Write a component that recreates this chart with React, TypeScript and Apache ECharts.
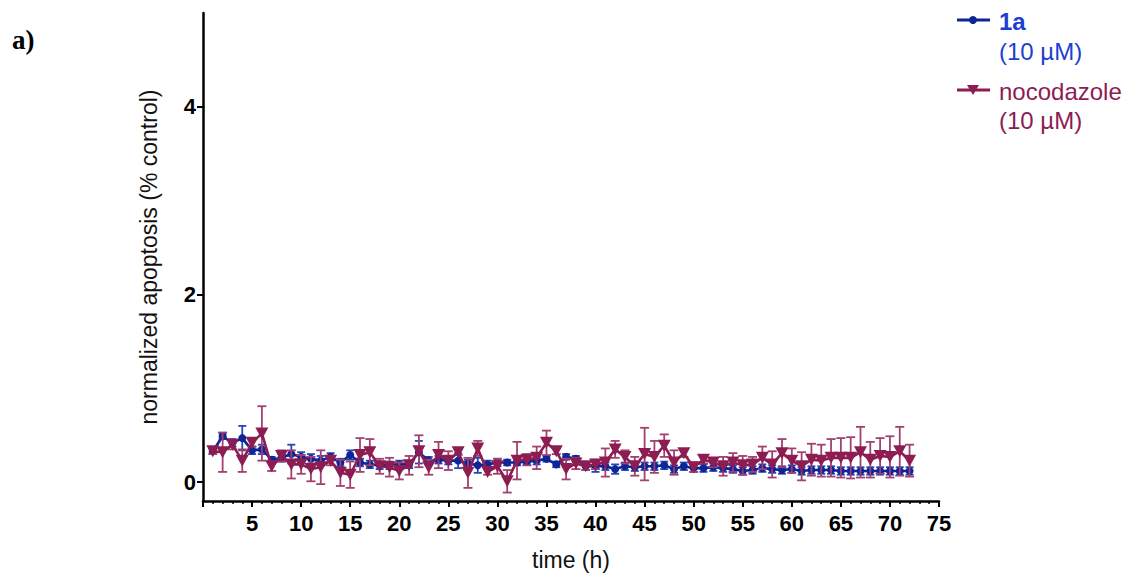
import React, { useEffect, useRef } from "react";
import * as echarts from "echarts";

const hours = [
  1, 2, 3, 4, 5, 6, 7, 8, 9, 10, 11, 12, 13, 14, 15, 16, 17, 18, 19, 20, 21, 22, 23, 24,
  25, 26, 27, 28, 29, 30, 31, 32, 33, 34, 35, 36, 37, 38, 39, 40, 41, 42, 43, 44, 45, 46, 47, 48,
  49, 50, 51, 52, 53, 54, 55, 56, 57, 58, 59, 60, 61, 62, 63, 64, 65, 66, 67, 68, 69, 70, 71, 72,
];

const cmpd1aMean = [
  0.33, 0.49, 0.42, 0.47, 0.34, 0.35, 0.24, 0.26, 0.3, 0.27, 0.25, 0.23, 0.27, 0.21, 0.29, 0.21, 0.19, 0.18, 0.18, 0.19, 0.19, 0.32, 0.23, 0.24,
  0.23, 0.23, 0.2, 0.18, 0.19, 0.21, 0.21, 0.21, 0.22, 0.23, 0.25, 0.19, 0.27, 0.25, 0.17, 0.17, 0.17, 0.14, 0.17, 0.16, 0.17, 0.17, 0.18, 0.14,
  0.17, 0.15, 0.15, 0.16, 0.15, 0.14, 0.12, 0.13, 0.15, 0.14, 0.13, 0.14, 0.12, 0.13, 0.13, 0.13, 0.12, 0.12, 0.12, 0.12, 0.12, 0.12, 0.12, 0.12,
];
const cmpd1aErr = [
  0.02, 0.03, 0.04, 0.13, 0.04, 0.05, 0.03, 0.04, 0.1, 0.05, 0.05, 0.05, 0.04, 0.04, 0.05, 0.04, 0.04, 0.04, 0.04, 0.04, 0.04, 0.12, 0.04, 0.04,
  0.04, 0.08, 0.04, 0.08, 0.04, 0.04, 0.03, 0.03, 0.03, 0.04, 0.03, 0.03, 0.03, 0.03, 0.04, 0.06, 0.04, 0.05, 0.04, 0.04, 0.04, 0.04, 0.04, 0.04,
  0.04, 0.04, 0.04, 0.04, 0.04, 0.04, 0.04, 0.04, 0.04, 0.04, 0.04, 0.04, 0.04, 0.04, 0.04, 0.04, 0.04, 0.04, 0.04, 0.04, 0.04, 0.04, 0.04, 0.04,
];

const nocoMean = [
  0.33, 0.32, 0.4, 0.23, 0.42, 0.52, 0.17, 0.28, 0.19, 0.19, 0.14, 0.16, 0.23, 0.1, 0.08, 0.29, 0.32, 0.17, 0.16, 0.12, 0.18, 0.33, 0.16, 0.29,
  0.23, 0.32, 0.1, 0.36, 0.11, 0.17, 0.01, 0.23, 0.24, 0.26, 0.42, 0.33, 0.14, 0.2, 0.17, 0.19, 0.21, 0.35, 0.27, 0.17, 0.3, 0.27, 0.39, 0.21,
  0.31, 0.16, 0.24, 0.21, 0.17, 0.21, 0.18, 0.19, 0.26, 0.19, 0.31, 0.23, 0.17, 0.24, 0.23, 0.26, 0.26, 0.26, 0.32, 0.24, 0.28, 0.27, 0.33, 0.23,
];
const nocoErr = [
  0.03, 0.21, 0.05, 0.12, 0.04, 0.29, 0.05, 0.06, 0.15, 0.1, 0.13, 0.18, 0.05, 0.14, 0.14, 0.18, 0.14, 0.08, 0.1, 0.09, 0.1, 0.17, 0.08, 0.14,
  0.1, 0.03, 0.16, 0.08, 0.03, 0.08, 0.12, 0.2, 0.06, 0.12, 0.13, 0.03, 0.11, 0.06, 0.04, 0.05, 0.15, 0.09, 0.07, 0.1, 0.28, 0.17, 0.12, 0.13,
  0.04, 0.05, 0.04, 0.05, 0.1, 0.1, 0.1, 0.08, 0.12, 0.14, 0.15, 0.13, 0.15, 0.17, 0.17, 0.2, 0.21, 0.22, 0.27, 0.19, 0.19, 0.22, 0.26, 0.17,
];

const yTicks = [0, 2, 4];

const BLUE = "#0d2597";
const BLUE_ERR = "#2747b8";
const BLUE_TEXT = "#1c3fd2";
const MAROON = "#8c1c52";
const MAROON_ERR = "#a2406f";

function errorSeries(name: string, mean: number[], err: number[], color: string, cap: number, z: number) {
  return {
    type: "custom",
    name,
    z,
    silent: true,
    data: hours.map((h, i) => [h, mean[i] - err[i], mean[i] + err[i]]),
    renderItem: (params: any, api: any) => {
      const x = api.value(0);
      const lo = api.coord([x, api.value(1)]);
      const hi = api.coord([x, api.value(2)]);
      const style = { stroke: color, lineWidth: 1.8, fill: "none" };
      return {
        type: "group",
        children: [
          { type: "line", shape: { x1: lo[0], y1: lo[1], x2: hi[0], y2: hi[1] }, style },
          { type: "line", shape: { x1: lo[0] - cap, y1: lo[1], x2: lo[0] + cap, y2: lo[1] }, style },
          { type: "line", shape: { x1: hi[0] - cap, y1: hi[1], x2: hi[0] + cap, y2: hi[1] }, style },
        ],
      };
    },
  };
}

export default function App() {
  const ref = useRef<HTMLDivElement>(null);
  useEffect(() => {
    document.body.style.margin = "0";
    const chart = echarts.init(ref.current!, null, { renderer: "svg" });
    const axisFont = { fontFamily: "'Liberation Sans', Arial, sans-serif" };
    const legendFont = "24px 'Liberation Sans', Arial, sans-serif";
    chart.setOption({
      animation: false,
      backgroundColor: "#ffffff",
      grid: { left: 203, right: 189, top: 13, bottom: 76, containLabel: false },
      xAxis: {
        type: "value",
        min: 0,
        max: 75,
        interval: 5,
        name: "time (h)",
        nameLocation: "middle",
        nameGap: 47,
        nameTextStyle: { ...axisFont, fontSize: 23, color: "#111" },
        axisLine: { onZero: false, lineStyle: { color: "#000", width: 2.5 } },
        axisTick: { show: true, length: 6, lineStyle: { color: "#000", width: 2 } },
        minorTick: { show: true, splitNumber: 5, length: 3, lineStyle: { color: "#000", width: 1.5 } },
        axisLabel: {
          ...axisFont,
          fontSize: 22,
          fontWeight: "bold",
          color: "#000",
          margin: 11,
          formatter: (v: number) => (v === 0 ? "" : String(v)),
        },
        splitLine: { show: false },
        minorSplitLine: { show: false },
      },
      yAxis: {
        type: "value",
        min: -0.2,
        max: 5,
        name: "normalized apoptosis (% control)",
        nameLocation: "middle",
        nameGap: 43,
        nameTextStyle: { ...axisFont, fontSize: 23, color: "#111" },
        axisLine: { show: true, lineStyle: { color: "#000", width: 2.5 } },
        axisTick: { show: true, length: 6, customValues: yTicks, lineStyle: { color: "#000", width: 2 } },
        axisLabel: {
          ...axisFont,
          fontSize: 22,
          fontWeight: "bold",
          color: "#000",
          margin: 7,
          customValues: yTicks,
        },
        splitLine: { show: false },
      },
      graphic: [
        {
          type: "text",
          x: 12,
          y: 26,
          style: { text: "a)", font: "bold 27px 'Liberation Serif', 'Times New Roman', serif", fill: "#000" },
        },
        { type: "line", shape: { x1: 957, y1: 20, x2: 990, y2: 20 }, style: { stroke: BLUE, lineWidth: 2.8 } },
        { type: "circle", shape: { cx: 973, cy: 20, r: 4 }, style: { fill: BLUE } },
        {
          type: "text",
          x: 999,
          y: 21,
          style: { text: "1a", font: "bold " + legendFont, fill: BLUE_TEXT, verticalAlign: "middle" },
        },
        {
          type: "text",
          x: 999,
          y: 51,
          style: { text: "(10 µM)", font: legendFont, fill: BLUE_TEXT, verticalAlign: "middle" },
        },
        { type: "line", shape: { x1: 957, y1: 90, x2: 990, y2: 90 }, style: { stroke: MAROON, lineWidth: 2.8 } },
        { type: "polygon", shape: { points: [[967, 85], [979, 85], [973, 95]] }, style: { fill: MAROON } },
        {
          type: "text",
          x: 999,
          y: 91,
          style: { text: "nocodazole", font: legendFont, fill: MAROON, verticalAlign: "middle" },
        },
        {
          type: "text",
          x: 999,
          y: 120,
          style: { text: "(10 µM)", font: legendFont, fill: MAROON, verticalAlign: "middle" },
        },
      ],
      series: [
        errorSeries("1a err", cmpd1aMean, cmpd1aErr, BLUE_ERR, 4, 1),
        {
          type: "line",
          name: "1a (10 µM)",
          z: 2,
          data: hours.map((h, i) => [h, cmpd1aMean[i]]),
          symbol: "circle",
          symbolSize: 8,
          itemStyle: { color: BLUE },
          lineStyle: { color: BLUE, width: 2.6 },
        },
        errorSeries("nocodazole err", nocoMean, nocoErr, MAROON_ERR, 4.5, 3),
        {
          type: "line",
          name: "nocodazole (10 µM)",
          z: 4,
          data: hours.map((h, i) => [h, nocoMean[i]]),
          symbol: "triangle",
          symbolRotate: 180,
          symbolSize: [13, 12],
          itemStyle: { color: MAROON },
          lineStyle: { color: MAROON, width: 2.6 },
        },
      ],
    });
    return () => chart.dispose();
  }, []);
  return <div ref={ref} style={{ width: 1128, height: 577 }} />;
}
